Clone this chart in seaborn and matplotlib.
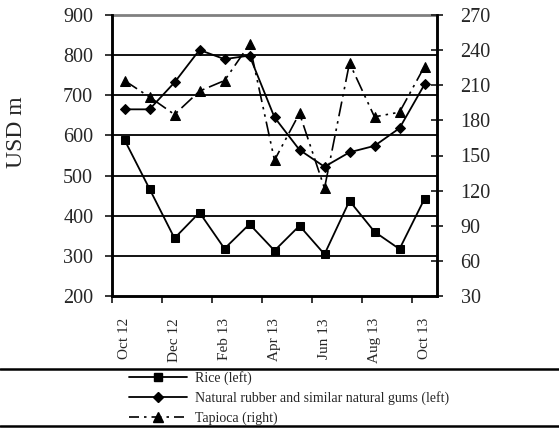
import numpy as np
import pandas as pd
import seaborn as sns
import matplotlib.pyplot as plt
from matplotlib.lines import Line2D

months = ["Oct 12", "Nov 12", "Dec 12", "Jan 13", "Feb 13", "Mar 13", "Apr 13",
          "May 13", "Jun 13", "Jul 13", "Aug 13", "Sep 13", "Oct 13"]
rice = [589, 467, 344, 408, 318, 379, 313, 375, 304, 437, 360, 317, 442]
rubber = [665, 665, 732, 813, 790, 799, 645, 564, 522, 558, 574, 618, 727]
tapioca = [214, 200, 185, 205, 214, 245, 146, 186, 122, 229, 183, 187, 226]

left_ticks = [200, 300, 400, 500, 600, 700, 800, 900]
right_ticks = [30, 60, 90, 120, 150, 180, 210, 240, 270]

sns.set_style("ticks")
plt.rcParams['font.family'] = ['Liberation Serif', 'DejaVu Serif']

df = pd.DataFrame({"month": months, "rice": rice, "rubber": rubber, "tapioca": tapioca})
df["pos"] = np.arange(len(df))

fig = plt.figure(figsize=(5.59, 4.28), dpi=100)
ax = fig.add_axes([112 / 559, 1 - 296 / 428, 325 / 559, 281 / 428])
ax2 = ax.twinx()

# gridlines (left axis)
for v in left_ticks[1:-1]:
    ax.axhline(v, color="black", lw=1.3, zorder=0)
ax.axhline(900, color="#808080", lw=2.0, zorder=0, clip_on=False)

sns.lineplot(data=df, x="pos", y="rice", ax=ax, color="black", lw=1.3,
             marker="s", markersize=6, markeredgecolor="black", sort=False)
sns.lineplot(data=df, x="pos", y="rubber", ax=ax, color="black", lw=1.3,
             marker="D", markersize=5.5, markeredgecolor="black", sort=False)
sns.lineplot(data=df, x="pos", y="tapioca", ax=ax2, color="black", lw=1.2,
             marker="^", markersize=7, markeredgecolor="black", sort=False,
             dashes=False, linestyle=(0, (9, 3, 1.5, 3, 1.5, 3)))

ax.set_xlim(-0.5, len(months) - 0.5)
ax.set_ylim(200, 900)
ax2.set_ylim(30, 270)
ax.set_yticks(left_ticks)
ax2.set_yticks(right_ticks)
ax.set_xticks(df["pos"][::2])
ax.set_xticklabels(df["month"][::2], rotation=90, fontsize=11)
ax.set_xticks(np.arange(-0.5, len(months) - 1, 2), minor=True)
ax.tick_params(axis="x", which="major", length=0, pad=16)
ax.tick_params(axis="x", which="minor", length=5, width=1.3, direction="out")
ax.tick_params(axis="y", length=5, width=1.3, labelsize=14.5, pad=8.5)
ax2.tick_params(axis="y", length=8, width=1.3, direction="inout", labelsize=14.5, pad=13)
ax.set_xlabel("")
ax.set_ylabel("")
ax2.set_ylabel("")

for a in (ax, ax2):
    a.spines["top"].set_visible(False)
    for s in ("left", "right", "bottom"):
        a.spines[s].set_linewidth(1.8)
        a.spines[s].set_color("black")

fig.text(17 / 559, 1 - 132 / 428, "USD m", rotation=90, ha="center", va="center", fontsize=17)
fig.text(556 / 559, 1 - 141 / 428, "USD m", rotation=270, ha="left", va="center",
         fontsize=17, color="#888888")

# legend frame: two rules across the figure, the last entry is cut off
for yy in (369, 426):
    fig.add_artist(Line2D([0, 1], [1 - yy / 428] * 2, transform=fig.transFigure,
                          color="black", lw=1.8))
handles = [
    Line2D([], [], color="black", lw=1.3, marker="s", markersize=6),
    Line2D([], [], color="black", lw=1.3, marker="D", markersize=5.5),
    Line2D([], [], color="black", lw=1.2, marker="^", markersize=7,
           linestyle=(0, (6, 3, 1.5, 3))),
]
labels = ["Rice (left)", "Natural rubber and similar natural gums (left)", "Tapioca (right)"]
fig.legend(handles, labels, loc="upper left", bbox_to_anchor=(129 / 559, 1 - 371 / 428),
           frameon=False, fontsize=10, handlelength=4.2, handletextpad=0.55,
           labelspacing=0.45, borderpad=0, borderaxespad=0)

fig.savefig("out.png", dpi=100)
